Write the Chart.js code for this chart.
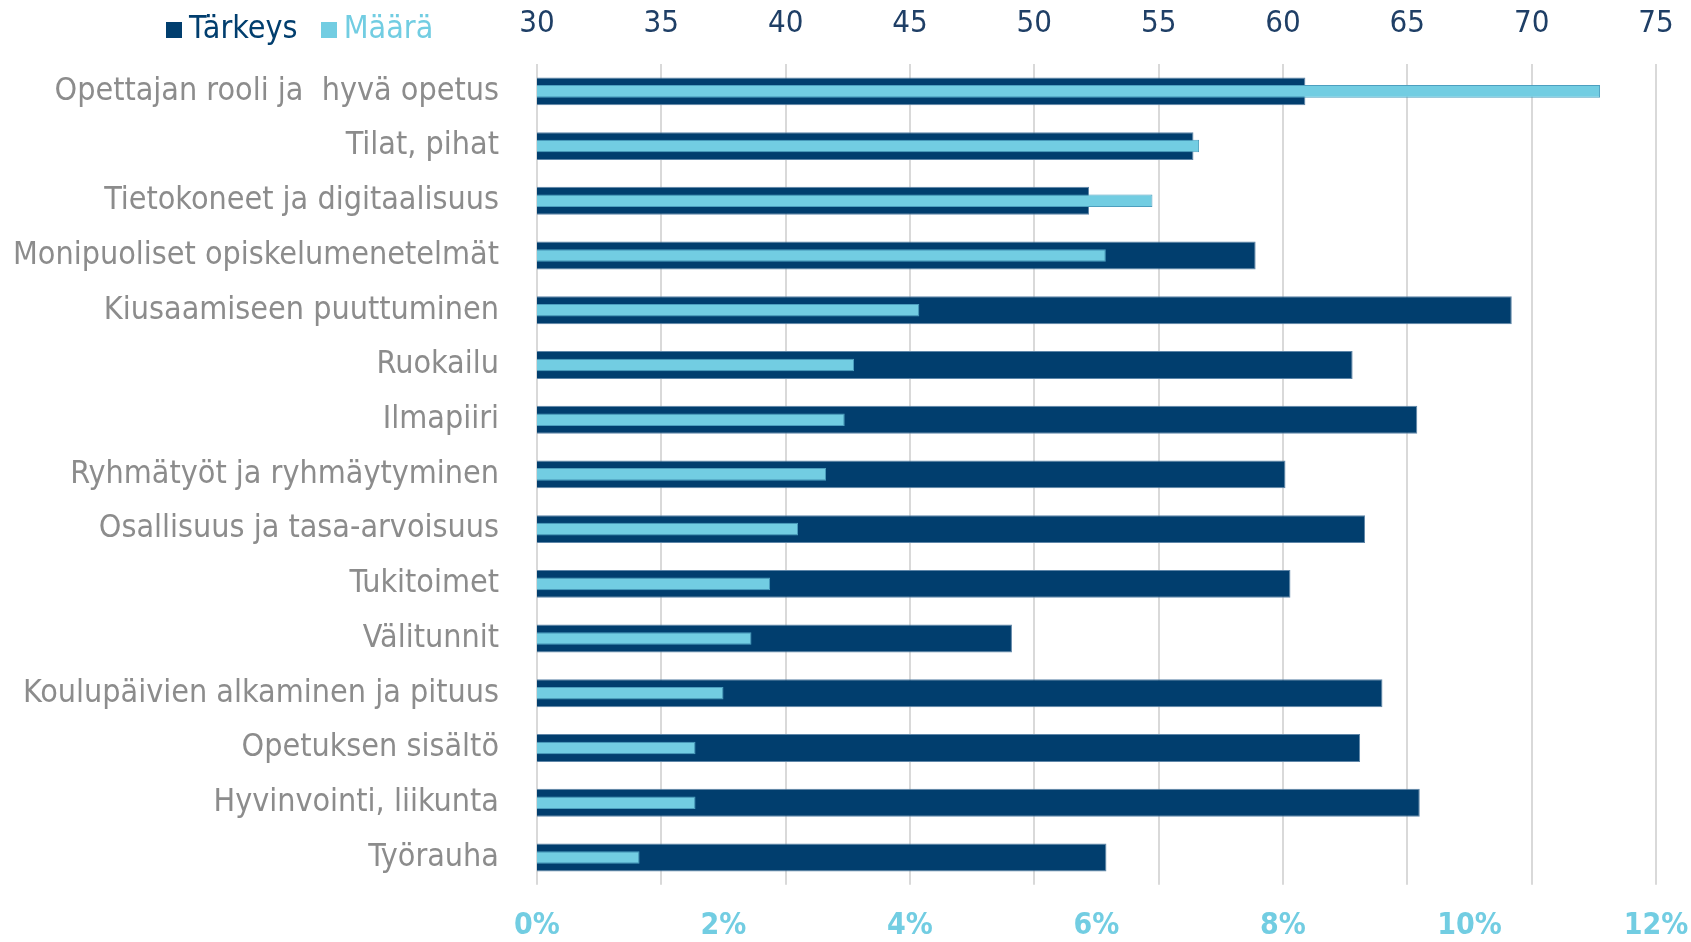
<!DOCTYPE html>
<html>
<head>
<meta charset="utf-8">
<script src="https://cdn.jsdelivr.net/npm/chart.js@4/dist/chart.umd.min.js"></script>
<style>
  html, body { margin: 0; background: #fff; overflow: hidden; }
  #wrap { position: relative; width: 1691px; height: 942px; overflow: hidden; }
  #grafik { display: block; }
  #legenda {
    position: absolute; left: 166px; top: 8px;
    font-family: 'Liberation Sans Narrow', 'DejaVu Sans Condensed', Lato, sans-serif;
    font-size: 32px; white-space: nowrap;
  }
  #legenda span.kotak { display: inline-block; width: 16px; height: 16px; margin-right: 7px; }
</style>
</head>
<body>
<div id="wrap">
  <canvas id="grafik"></canvas>
  <div id="legenda">
    <span class="kotak" style="background:#013e6e"></span><span style="color:#013e6e">Tärkeys</span>
    <span class="kotak" style="background:#72cde2;margin-left:14px"></span><span style="color:#72cde2">Määrä</span>
  </div>
</div>
<script>
const kategori = [
  "Opettajan rooli ja  hyvä opetus", "Tilat, pihat", "Tietokoneet ja digitaalisuus",
  "Monipuoliset opiskelumenetelmät", "Kiusaamiseen puuttuminen", "Ruokailu", "Ilmapiiri",
  "Ryhmätyöt ja ryhmäytyminen", "Osallisuus ja tasa-arvoisuus", "Tukitoimet", "Välitunnit",
  "Koulupäivien alkaminen ja pituus", "Opetuksen sisältö", "Hyvinvointi, liikunta", "Työrauha"
];

// Tärkeys (ylä-akseli 30-75)
const tarkeys = [60.9, 56.4, 52.2, 58.9, 69.2, 62.8, 65.4, 60.1, 63.3, 60.3, 49.1, 64.0, 63.1, 65.5, 52.9];
// Määrä (ala-akseli, prosentteina)
const maara = [11.4, 7.1, 6.6, 6.1, 4.1, 3.4, 3.3, 3.1, 2.8, 2.5, 2.3, 2.0, 1.7, 1.7, 1.1];

const tickAtas = [30, 35, 40, 45, 50, 55, 60, 65, 70, 75];
const tickBawah = [0, 2, 4, 6, 8, 10, 12];

const fontSempit = "'Liberation Sans Narrow', 'DejaVu Sans Condensed', Lato, sans-serif";

const ctx = document.getElementById('grafik').getContext('2d');
new Chart(ctx, {
  type: 'bar',
  data: {
    labels: kategori,
    datasets: [
      {
        label: 'Tärkeys',
        data: tarkeys,
        xAxisID: 'x',
        backgroundColor: '#013e6e',
        borderColor: '#5f86a8',
        borderWidth: 1,
        grouped: false,
        barPercentage: 0.51,
        categoryPercentage: 1,
        order: 1
      },
      {
        label: 'Määrä',
        data: maara,
        xAxisID: 'x2',
        backgroundColor: '#72cde2',
        borderColor: '#4d9fbf',
        borderWidth: 1,
        grouped: false,
        barPercentage: 0.23,
        categoryPercentage: 1,
        order: 0
      }
    ]
  },
  options: {
    indexAxis: 'y',
    responsive: true,
    maintainAspectRatio: false,
    animation: false,
    layout: { padding: { left: 0, right: 35, top: 0, bottom: 0 } },
    plugins: {
      legend: { display: false },
      tooltip: { enabled: false }
    },
    scales: {
      x: {
        position: 'top',
        min: 30,
        max: 75,
        afterBuildTicks: (scale) => { scale.ticks = tickAtas.map(v => ({ value: v })); },
        afterFit: (scale) => { scale.height = 64; scale.paddingRight = 0; scale.paddingLeft = 0; },
        grid: { color: '#d9d9d9', lineWidth: 2, drawTicks: false },
        border: { display: false },
        ticks: {
          color: '#1f3f66',
          padding: 21,
          font: { family: fontSempit, size: 31 }
        }
      },
      x2: {
        position: 'bottom',
        min: 0,
        max: 12,
        afterBuildTicks: (scale) => { scale.ticks = tickBawah.map(v => ({ value: v })); },
        afterFit: (scale) => { scale.height = 51; scale.paddingRight = 0; scale.paddingLeft = 0; },
        grid: { display: false, drawTicks: false },
        border: { display: false },
        ticks: {
          color: '#72cde2',
          padding: 23,
          font: { family: fontSempit, size: 30, weight: 'bold' },
          callback: (v) => v + '%'
        }
      },
      y: {
        afterFit: (scale) => { scale.width = 537; },
        grid: { display: false, drawTicks: false },
        border: { display: false },
        ticks: {
          color: '#8c8c8c',
          padding: 38,
          autoSkip: false,
          font: { family: fontSempit, size: 32 }
        }
      }
    }
  }
});
</script>
</body>
</html>
